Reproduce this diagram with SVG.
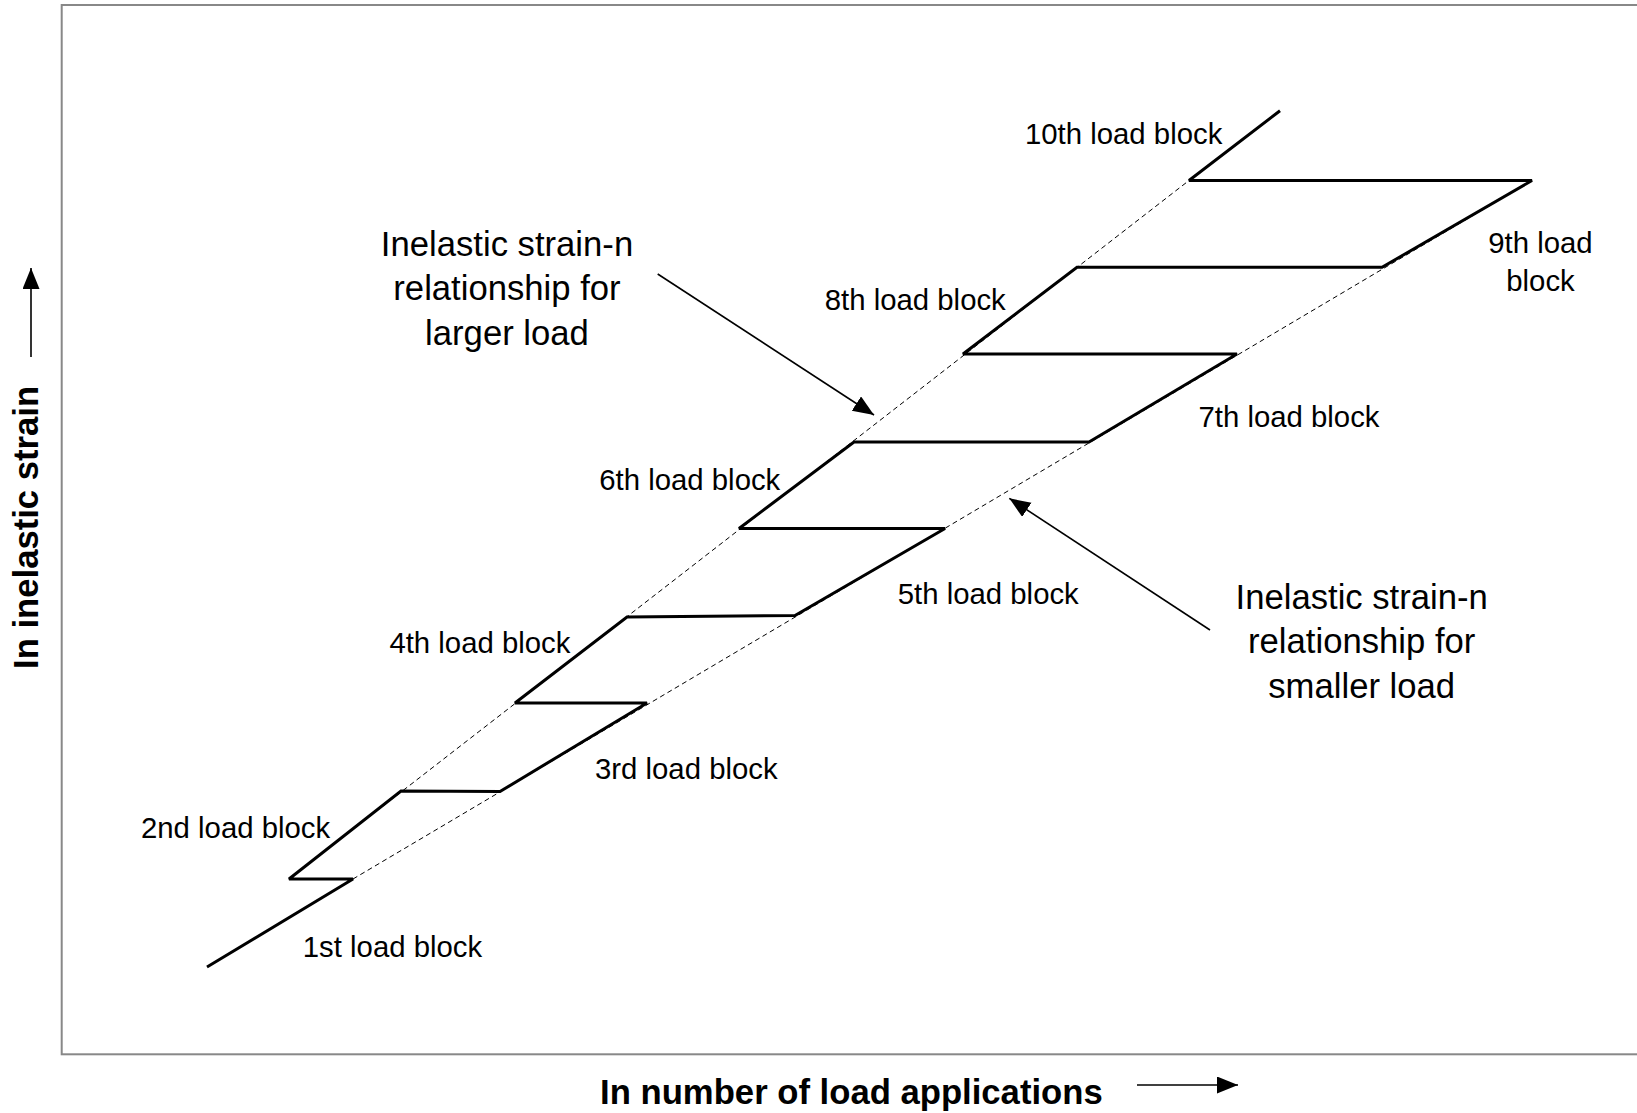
<svg xmlns="http://www.w3.org/2000/svg" width="1637" height="1113" viewBox="0 0 1637 1113">
  <style>
    .lbl { font-family: "Liberation Sans", Arial, sans-serif; font-size: 29.33px; fill: #000; }
    .big { font-family: "Liberation Sans", Arial, sans-serif; font-size: 34.67px; fill: #000; text-anchor: middle; }
    .axis { font-family: "Liberation Sans", Arial, sans-serif; font-size: 34.67px; font-weight: bold; fill: #000; }
    .solid { fill: none; stroke: #000; stroke-width: 3; stroke-linejoin: miter; stroke-miterlimit: 2.5; }
    .dash { fill: none; stroke: #000; stroke-width: 1; stroke-dasharray: 5 3.5; }
    .arr { fill: none; stroke: #000; stroke-width: 1.6; }
  </style>
  <defs>
    <marker id="ah" markerUnits="userSpaceOnUse" markerWidth="24" markerHeight="20" refX="21" refY="8.5" orient="auto">
      <path d="M0,0 L21,8.5 L0,17 z" fill="#000"/>
    </marker>
  </defs>
  <rect width="1637" height="1113" fill="#fff"/>
  <rect id="frame" x="61.7" y="5" width="1600" height="1049.3" fill="none" stroke="#888" stroke-width="2"/>

  <g id="curves">
    <line class="dash" x1="289" y1="879" x2="1189" y2="180.5"/>
    <line class="dash" x1="353" y1="879" x2="1532" y2="180.5"/>
    <polyline class="solid" points="207,967 353,879 289,879 401,791 500,791.5 647,703 515,703 627,617 795,615.5 945,528.5 739,528.5 854,442 1089,442 1237,354 963,354 1077,267.3 1382,267.3 1532,180.5 1189,180.5 1280,110.7"/>
  </g>

  <g id="block-labels">
    <text id="b1" class="lbl" x="302.8" y="956.5">1st load block</text>
    <text id="b2" class="lbl" x="141" y="837.5">2nd load block</text>
    <text id="b3" class="lbl" x="595" y="779">3rd load block</text>
    <text id="b4" class="lbl" x="389.4" y="652.5">4th load block</text>
    <text id="b5" class="lbl" x="897.8" y="603.5">5th load block</text>
    <text id="b6" class="lbl" x="599.3" y="489.7">6th load block</text>
    <text id="b7" class="lbl" x="1198.5" y="427">7th load block</text>
    <text id="b8" class="lbl" x="824.8" y="310">8th load block</text>
    <text id="b9" class="lbl" text-anchor="middle" x="1540.5" y="252.5">9th load<tspan x="1540.5" y="291">block</tspan></text>
    <text id="b10" class="lbl" x="1025" y="143.5">10th load block</text>
  </g>

  <g id="larger-load">
    <text class="big" x="507" y="255.5">Inelastic strain-n</text>
    <text class="big" x="507" y="300">relationship for</text>
    <text class="big" x="507" y="344.5">larger load</text>
  </g>
  <g id="smaller-load">
    <text class="big" x="1361.7" y="608.5">Inelastic strain-n</text>
    <text class="big" x="1361.7" y="653">relationship for</text>
    <text class="big" x="1361.7" y="697.5">smaller load</text>
  </g>

  <g id="connectors">
    <line class="arr" x1="657.7" y1="274" x2="874" y2="415" marker-end="url(#ah)"/>
    <line class="arr" x1="1210" y1="630" x2="1009.3" y2="498.3" marker-end="url(#ah)"/>
    <line class="arr" x1="31" y1="357" x2="31" y2="268" marker-end="url(#ah)"/>
    <line class="arr" x1="1137" y1="1085" x2="1238" y2="1085" marker-end="url(#ah)"/>
  </g>

  <g id="axis-labels">
    <text id="xlabel" class="axis" text-anchor="middle" x="851.4" y="1104">In number of load applications</text>
    <text id="ylabel" class="axis" transform="translate(37.5,669) rotate(-90)" x="0" y="0">In inelastic strain</text>
  </g>
</svg>
